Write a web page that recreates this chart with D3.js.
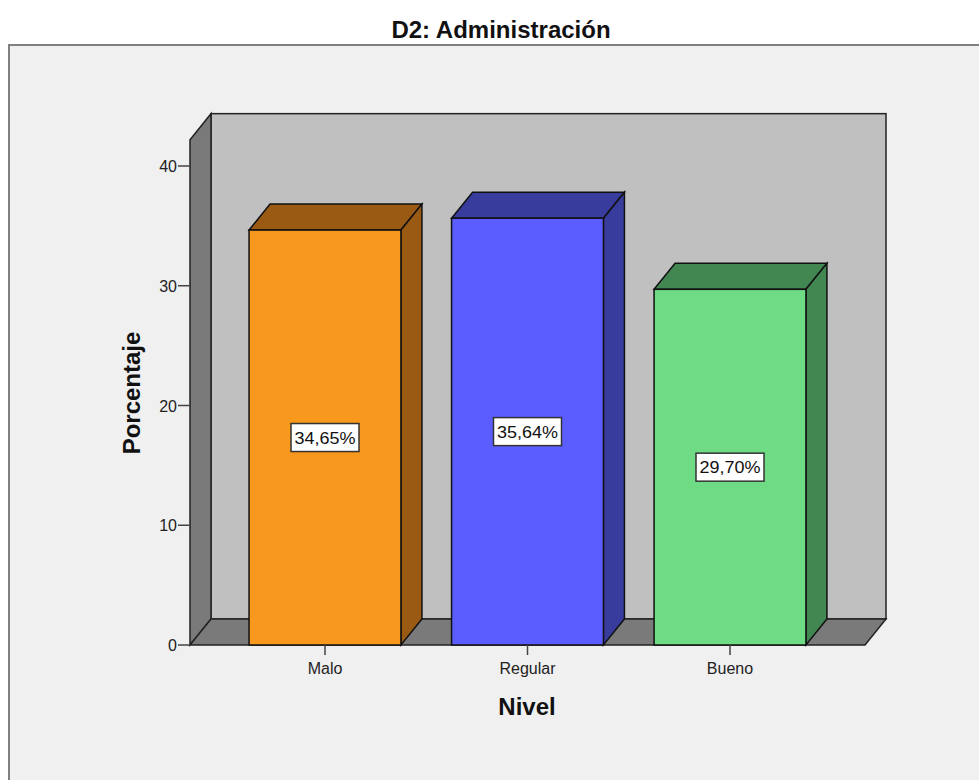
<!DOCTYPE html>
<html>
<head>
<meta charset="utf-8">
<script src="https://cdn.jsdelivr.net/npm/d3@7"></script>
<style>
  body { margin: 0; background: #fff; }
  svg text { font-family: Arial, "Liberation Sans", sans-serif; }
</style>
</head>
<body>
<div id="chart"></div>
<script>
// data
var categories = ["Malo", "Regular", "Bueno"];
var values = [34.65, 35.64, 29.70];
var labels = ["34,65%", "35,64%", "29,70%"];
var yTicks = [0, 10, 20, 30, 40];
var frontColors = ["#f8981d", "#5b5dff", "#6fdc85"];
var darkColors = ["#9a5a14", "#383c9c", "#428651"];

var W = 979, H = 780;
var dx = 21, dy = 26;   // 3d depth offset

var svg = d3.select("#chart").append("svg")
    .attr("width", W).attr("height", H);

// outer frame
svg.append("rect")
    .attr("x", 9).attr("y", 45)
    .attr("width", W + 20).attr("height", H)
    .attr("fill", "#f0f0f0")
    .attr("stroke", "#808080").attr("stroke-width", 2);

svg.append("text")
    .attr("x", 501).attr("y", 38)
    .attr("text-anchor", "middle")
    .attr("font-size", "24px").attr("font-weight", "bold")
    .attr("fill", "#111")
    .text("D2: Administración");

var y = d3.scaleLinear().domain([0, 40]).range([645, 166]);
var x = d3.scaleBand().domain(categories)
    .range([223.75, 831.25]).paddingInner(0.25).paddingOuter(0.125);

var left = 190, right = 865;
var yTop = y(42.2), y0 = y(0);

// back wall
svg.append("rect")
    .attr("x", left + dx).attr("y", yTop - dy)
    .attr("width", right - left).attr("height", y0 - yTop)
    .attr("fill", "#c0c0c0").attr("stroke", "#222").attr("stroke-width", 1.5);

// left wall
svg.append("path")
    .attr("d", d3.line()([[left, y0], [left, yTop], [left + dx, yTop - dy], [left + dx, y0 - dy]]) + "Z")
    .attr("fill", "#7a7a7a").attr("stroke", "#222").attr("stroke-width", 1.5);

// floor
svg.append("path")
    .attr("d", d3.line()([[left, y0], [left + dx, y0 - dy], [right + dx, y0 - dy], [right, y0]]) + "Z")
    .attr("fill", "#7a7a7a").attr("stroke", "#222").attr("stroke-width", 1.5);

// y axis ticks
var ya = svg.append("g");
ya.selectAll("line").data(yTicks).enter().append("line")
    .attr("x1", left - 12).attr("x2", left)
    .attr("y1", function(d) { return y(d); }).attr("y2", function(d) { return y(d); })
    .attr("stroke", "#444").attr("stroke-width", 1.5);
ya.selectAll("text").data(yTicks).enter().append("text")
    .attr("x", left - 13).attr("y", function(d) { return y(d) + 6; })
    .attr("text-anchor", "end").attr("font-size", "16px").attr("fill", "#222")
    .text(function(d) { return d; });

// bars
var bars = svg.selectAll(".bar").data(values).enter().append("g").attr("class", "bar");
bars.each(function(v, i) {
    var g = d3.select(this);
    var x0 = x(categories[i]), x1 = x0 + x.bandwidth(), yt = y(v);
    // top face
    g.append("path")
        .attr("d", d3.line()([[x0, yt], [x0 + dx, yt - dy], [x1 + dx, yt - dy], [x1, yt]]) + "Z")
        .attr("fill", darkColors[i]).attr("stroke", "#111").attr("stroke-width", 1.5);
    // side face
    g.append("path")
        .attr("d", d3.line()([[x1, yt], [x1 + dx, yt - dy], [x1 + dx, y0 - dy], [x1, y0]]) + "Z")
        .attr("fill", darkColors[i]).attr("stroke", "#111").attr("stroke-width", 1.5);
    // front face
    g.append("rect")
        .attr("x", x0).attr("y", yt).attr("width", x1 - x0).attr("height", y0 - yt)
        .attr("fill", frontColors[i]).attr("stroke", "#111").attr("stroke-width", 1.5);
    // label box
    var cx = x0 + x.bandwidth() / 2, cy = (yt + y0) / 2;
    g.append("rect")
        .attr("x", cx - 34).attr("y", cy - 14).attr("width", 68).attr("height", 28)
        .attr("fill", "#fff").attr("stroke", "#333").attr("stroke-width", 1.5);
    g.append("text")
        .attr("x", cx).attr("y", cy + 6)
        .attr("text-anchor", "middle").attr("font-size", "17px").attr("fill", "#111")
        .attr("textLength", 61).attr("lengthAdjust", "spacingAndGlyphs")
        .text(labels[i]);
});

// x axis ticks and labels
var xa = svg.append("g");
xa.selectAll("line").data(categories).enter().append("line")
    .attr("x1", function(d) { return x(d) + x.bandwidth() / 2; })
    .attr("x2", function(d) { return x(d) + x.bandwidth() / 2; })
    .attr("y1", y0).attr("y2", y0 + 10)
    .attr("stroke", "#444").attr("stroke-width", 1.5);
xa.selectAll("text").data(categories).enter().append("text")
    .attr("x", function(d) { return x(d) + x.bandwidth() / 2; })
    .attr("y", y0 + 29)
    .attr("text-anchor", "middle").attr("font-size", "16px").attr("fill", "#222")
    .text(function(d) { return d; });

// axis titles
svg.append("text")
    .attr("x", 527).attr("y", 715)
    .attr("text-anchor", "middle").attr("font-size", "24px").attr("font-weight", "bold")
    .attr("fill", "#111").text("Nivel");
svg.append("text")
    .attr("transform", "translate(140,393) rotate(-90)")
    .attr("text-anchor", "middle").attr("font-size", "24px").attr("font-weight", "bold")
    .attr("fill", "#111").text("Porcentaje");
</script>
</body>
</html>
